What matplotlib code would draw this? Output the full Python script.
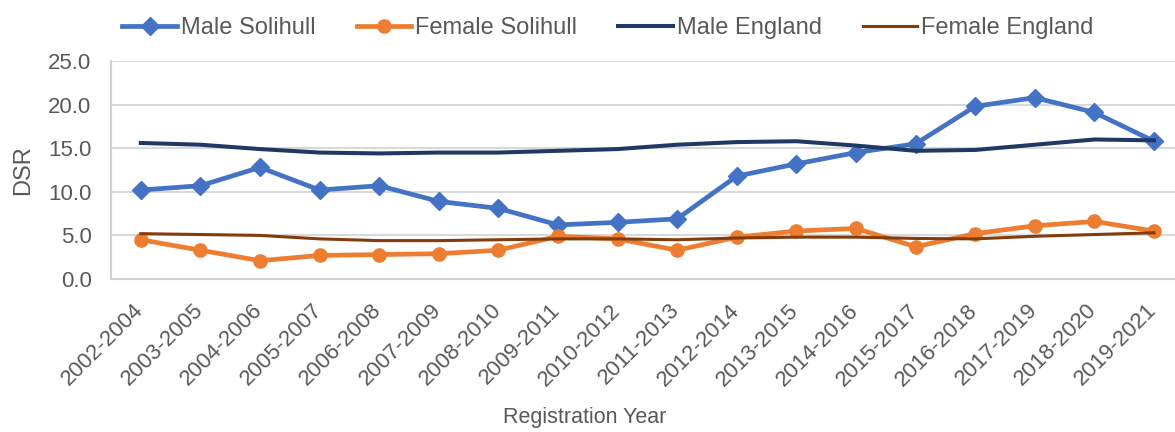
import matplotlib
matplotlib.use("Agg")
import matplotlib.pyplot as plt
import matplotlib.transforms as mtransforms
import numpy as np

plt.rcParams["font.family"] = ["Liberation Sans", "DejaVu Sans"]

# ── Data ──────────────────────────────────────────────────────────────────────
periods = ["2002-2004", "2003-2005", "2004-2006", "2005-2007", "2006-2008",
           "2007-2009", "2008-2010", "2009-2011", "2010-2012", "2011-2013",
           "2012-2014", "2013-2015", "2014-2016", "2015-2017", "2016-2018",
           "2017-2019", "2018-2020", "2019-2021"]

male_solihull   = [10.2, 10.7, 12.8, 10.2, 10.7, 8.9, 8.1, 6.2, 6.5, 6.9,
                   11.8, 13.2, 14.5, 15.5, 19.8, 20.8, 19.1, 15.8]
female_solihull = [4.5, 3.3, 2.1, 2.7, 2.8, 2.9, 3.3, 4.9, 4.6, 3.3,
                   4.8, 5.5, 5.8, 3.7, 5.2, 6.1, 6.6, 5.5]
male_england    = [15.6, 15.4, 14.9, 14.5, 14.4, 14.5, 14.5, 14.7, 14.9, 15.4,
                   15.7, 15.8, 15.3, 14.7, 14.8, 15.4, 16.0, 15.9]
female_england  = [5.2, 5.1, 5.0, 4.6, 4.4, 4.4, 4.5, 4.6, 4.6, 4.5,
                   4.7, 4.8, 4.8, 4.65, 4.6, 4.9, 5.1, 5.3]

y_ticks = [0, 5, 10, 15, 20, 25]

# ── Plot ──────────────────────────────────────────────────────────────────────
TEXT = "#595959"
W, H = 1175, 432
fig = plt.figure(figsize=(W / 100, H / 100), dpi=100)
ax = fig.add_axes([111 / W, 1 - 279 / H, 1 - 111 / W, (279 - 61) / H])

x = np.arange(len(periods))
ax.plot(x, male_solihull, color="#4472C4", lw=3.4, marker="D", ms=9.5,
        label="Male Solihull", solid_joinstyle="round")
ax.plot(x, female_solihull, color="#ED7D31", lw=3.4, marker="o", ms=9.5,
        label="Female Solihull", solid_joinstyle="round")
ax.plot(x, male_england, color="#203864", lw=2.9, label="Male England",
        solid_joinstyle="round")
ax.plot(x, female_england, color="#843C0C", lw=2.2, label="Female England",
        solid_joinstyle="round")

ax.set_ylim(0, 25)
ax.set_xlim(-0.5, 17 + (W - 1154) / 59.5)
ax.set_yticks(y_ticks)
ax.set_yticklabels([f"{v:.1f}" for v in y_ticks])
ax.set_xticks(x)
ax.set_xticklabels(periods, rotation=45, ha="right", rotation_mode="anchor")
ax.tick_params(axis="y", length=0, labelsize=16, colors=TEXT, pad=14)
ax.tick_params(axis="x", length=0, labelsize=16, colors=TEXT, pad=15)

# nudge rotated labels left so their ends sit on the tick
shift = mtransforms.ScaledTranslation(-0.08, 0, fig.dpi_scale_trans)
for lab in ax.get_xticklabels():
    lab.set_transform(lab.get_transform() + shift)

ax.grid(axis="y", color="#d9d9d9", lw=1.5)
ax.set_axisbelow(True)
for side in ["top", "right"]:
    ax.spines[side].set_visible(False)
for side in ["left", "bottom"]:
    ax.spines[side].set_color("#d0d0d0")
    ax.spines[side].set_linewidth(1.5)

ax.set_ylabel("DSR", fontsize=17, color=TEXT)
ax.yaxis.set_label_coords((23 - 111) / (W - 111), 0.5)
ax.set_xlabel("Registration Year", fontsize=15.5, color=TEXT)
ax.xaxis.set_label_coords((585 - 111) / (W - 111), (279 - 418) / 218)
ax.xaxis.label.set_va("center")
ax.yaxis.label.set_va("center")

ax.legend(loc="center", bbox_to_anchor=(608 / W, (H - 28) / H),
          bbox_transform=fig.transFigure, ncol=4, frameon=False,
          fontsize=17, labelcolor=TEXT, handlelength=2.3, handletextpad=0.17,
          columnspacing=1.75)

fig.savefig("out.png", dpi=100)
